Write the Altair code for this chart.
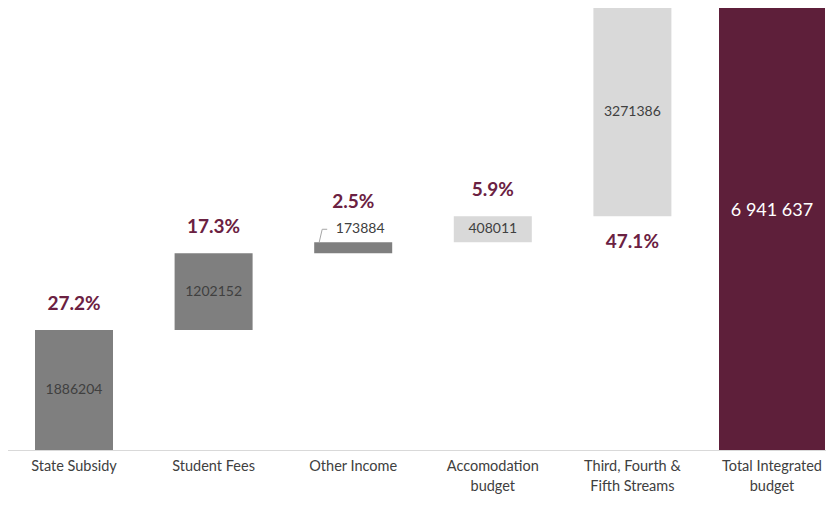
import altair as alt
import pandas as pd

categories = ["State Subsidy", "Student Fees", "Other Income", "Accomodation|budget",
              "Third, Fourth &|Fifth Streams", "Total Integrated|budget"]
increments = [1886204, 1202152, 173884, 408011, 3271386]
total_value = 6941637
value_labels = ["1886204", "1202152", "173884", "408011", "3271386"]
total_label = "6 941 637"
pct_labels = ["27.2%", "17.3%", "2.5%", "5.9%", "47.1%"]
shades = ["dark", "dark", "dark", "light", "light"]

rows = []
cum = 0
for cat, inc, vl, pl, sh in zip(categories[:5], increments, value_labels, pct_labels, shades):
    rows.append(dict(cat=cat, start=cum, end=cum + inc, mid=cum + inc / 2,
                     vlabel=vl, pct=pl, shade=sh))
    cum += inc
df = pd.DataFrame(rows)
tot = pd.DataFrame([dict(cat=categories[5], start=0, end=total_value,
                         mid=total_value / 2, vlabel=total_label, shade="total")])

MAROON = "#5e1f3a"
PCT = "#6b2142"

x = alt.X("cat:N", sort=categories,
          scale=alt.Scale(domain=categories, range=[-3.8, 833.8],
                          paddingInner=0, paddingOuter=0),
          axis=alt.Axis(title=None, labelAngle=0, ticks=False, domainColor="#d9d9d9",
                        domainWidth=1, labelExpr="split(datum.label, '|')",
                        labelFont="Lato", labelFontSize=14.5, labelColor="#404040",
                        labelPadding=9, labelLineHeight=20, labelOverlap=False,
                        labelBaseline="top", grid=False))


def yq(field):
    return alt.Y(field, scale=alt.Scale(domain=[0, total_value], nice=False), axis=None)


base = alt.Chart(df)

bars = base.mark_bar(size=78).encode(
    x=x, y=yq("start:Q"), y2="end:Q",
    color=alt.Color("shade:N", scale=alt.Scale(domain=["dark", "light", "total"],
                                               range=["#7f7f7f", "#d9d9d9", MAROON]),
                    legend=None))
totbar = alt.Chart(tot).mark_bar(size=106, color=MAROON).encode(
    x=x, y=yq("start:Q"), y2="end:Q")

mid_labels = base.transform_filter("datum.cat != 'Other Income'").mark_text(
    font="Lato", fontSize=14, color="#404040").encode(
    x=x, y=yq("mid:Q"), text="vlabel:N")

oi = base.transform_filter("datum.cat == 'Other Income'")
oi_label = oi.mark_text(font="Lato", fontSize=14, color="#404040", dx=7, dy=-13).encode(
    x=x, y=yq("end:Q"), text="vlabel:N")
leader = oi.mark_rule(color="#a6a6a6", strokeWidth=1, xOffset=-34, x2Offset=-31,
                      yOffset=0, y2Offset=-13).encode(
    x=x, x2="cat:N", y=yq("end:Q"), y2="end:Q")
leader2 = oi.mark_rule(color="#a6a6a6", strokeWidth=1, xOffset=-31, x2Offset=-26,
                       yOffset=-13, y2Offset=-13).encode(
    x=x, x2="cat:N", y=yq("end:Q"), y2="end:Q")

pct_above = base.transform_filter(
    "datum.cat == 'State Subsidy' || datum.cat == 'Student Fees' || indexof(datum.cat, 'Accomodation') == 0"
).mark_text(font="Lato", fontSize=19, fontWeight="bold", color=PCT, dy=-26).encode(
    x=x, y=yq("end:Q"), text="pct:N")
pct_oi = oi.mark_text(font="Lato", fontSize=19, fontWeight="bold", color=PCT, dy=-40).encode(
    x=x, y=yq("end:Q"), text="pct:N")
pct_below = base.transform_filter("indexof(datum.cat, 'Third') == 0").mark_text(
    font="Lato", fontSize=19, fontWeight="bold", color=PCT, dy=26).encode(
    x=x, y=yq("start:Q"), text="pct:N")

tot_label = alt.Chart(tot).mark_text(font="Lato", fontSize=18, color="white", dy=-18).encode(
    x=x, y=yq("mid:Q"), text="vlabel:N")

chart = alt.layer(bars, totbar, mid_labels, oi_label, leader, leader2,
                  pct_above, pct_oi, pct_below, tot_label).properties(
    width=818, height=442,
    autosize=alt.AutoSizeParams(type="none"),
    padding={"left": 0, "top": 0, "right": 0, "bottom": 48},
    view=alt.ViewBackground(stroke="transparent", strokeOpacity=0, strokeWidth=0),
).configure_view(stroke="transparent", strokeWidth=0).configure(background="white")

chart.save("out.html", embed_options={"renderer": "svg", "actions": False})
